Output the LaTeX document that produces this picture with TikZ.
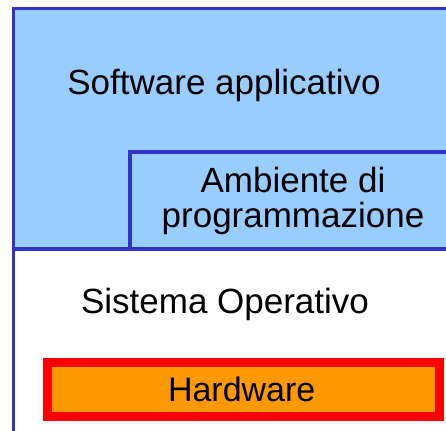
\documentclass[tikz,border=0pt]{standalone}
\usepackage{fontspec}
\setmainfont{Liberation Sans}
\definecolor{layerblue}{RGB}{153,204,255}
\definecolor{edgeblue}{RGB}{51,51,204}
\definecolor{hwred}{RGB}{255,0,0}
\definecolor{hworange}{RGB}{255,153,0}
\begin{document}
\begin{tikzpicture}[x=1pt,y=-1pt,
  layertext/.style={font=\fontsize{35}{35}\selectfont, inner sep=0pt, anchor=base},
  outerlayer/.style={draw=edgeblue, line width=3.5pt},
  innerlayer/.style={draw=edgeblue, line width=4.5pt, fill=layerblue},
  hwbox/.style={draw=hwred, line width=9pt, fill=hworange}]
  \useasboundingbox (0,0) rectangle (446,430);
  \clip (0,0) rectangle (446,430);

  % operating system frame, open to the right and bottom
  \draw[outerlayer, fill=white] (13.5,8.5) rectangle (500,500);
  % application software layer
  \draw[outerlayer, fill=layerblue] (13.5,8.5) rectangle (500,249);
  % programming environment inset
  \draw[innerlayer] (130,152) rectangle (500,249);
  % hardware core
  \draw[hwbox] (47.5,362.5) rectangle (439,416);

  \node[layertext] (sw) at (224,94.5) {Software applicativo};
  \node[layertext, anchor=north, align=center] (amb) at (293,166.5) {Ambiente di\\programmazione};
  \node[layertext] (so) at (225,313.3) {Sistema Operativo};
  \node[layertext, font=\fontsize{34}{34}\selectfont] (hw) at (241.7,401.7) {Hardware};
\end{tikzpicture}
\end{document}
